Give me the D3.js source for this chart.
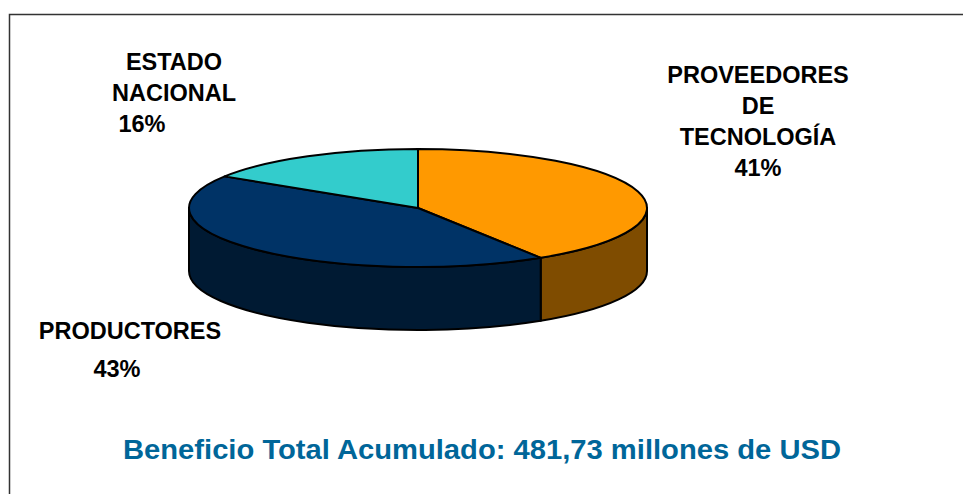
<!DOCTYPE html>
<html>
<head>
<meta charset="utf-8">
<script src="https://cdn.jsdelivr.net/npm/d3@7"></script>
<style>
  body { margin: 0; background: #fff; }
  text { font-family: "Liberation Sans", Arial, sans-serif; font-weight: bold; }
</style>
</head>
<body>
<div id="chart"></div>
<script>
// data
const categories = ["PROVEEDORES DE TECNOLOGÍA", "PRODUCTORES", "ESTADO NACIONAL"];
const shares = [41, 43, 16];
const labelLines = [["PROVEEDORES", "DE", "TECNOLOGÍA", "41%"], ["PRODUCTORES", "43%"], ["ESTADO", "NACIONAL", "16%"]];
const topColors = ["#FF9900", "#003366", "#33CCCC"];
const sideColors = ["#7F4C00", "#001A33", "#1A6666"];
const title = "Beneficio Total Acumulado: 481,73 millones de USD";

const width = 963, height = 494;
const cx = 418, cy = 208, rx = 229, ry = 59, depth = 63;

const svg = d3.select("#chart").append("svg")
  .attr("width", width)
  .attr("height", height);

// frame
svg.append("rect")
  .attr("x", 9.5).attr("y", 14.5)
  .attr("width", 1000).attr("height", 600)
  .attr("fill", "none")
  .attr("stroke", "#333")
  .attr("stroke-width", 1.5);

const pie = d3.pie().sort(null).value(d => d)(shares);

// angle measured clockwise from 12 o'clock
function pt(a, dy) {
  return [cx + rx * Math.sin(a), cy - ry * Math.cos(a) + (dy || 0)];
}

// side walls (only the front half is visible)
pie.forEach((d, i) => {
  const a0 = Math.max(d.startAngle, Math.PI / 2);
  const a1 = Math.min(d.endAngle, Math.PI * 1.5);
  if (a1 <= a0) return;
  const p0 = pt(a0), p1 = pt(a1), q1 = pt(a1, depth), q0 = pt(a0, depth);
  const path = "M" + p0 + " A" + rx + "," + ry + " 0 0 1 " + p1 +
    " L" + q1 + " A" + rx + "," + ry + " 0 0 0 " + q0 + " Z";
  svg.append("path")
    .attr("d", path)
    .attr("fill", sideColors[i])
    .attr("stroke", "#000")
    .attr("stroke-width", 2)
    .attr("stroke-linejoin", "round");
});

// top faces
svg.append("g").selectAll("path")
  .data(pie)
  .enter()
  .append("path")
  .attr("d", d => {
    const p0 = pt(d.startAngle), p1 = pt(d.endAngle);
    const large = d.endAngle - d.startAngle > Math.PI ? 1 : 0;
    return "M" + cx + "," + cy + " L" + p0 + " A" + rx + "," + ry + " 0 " + large + " 1 " + p1 + " Z";
  })
  .attr("fill", (d, i) => topColors[i])
  .attr("stroke", "#000")
  .attr("stroke-width", 2)
  .attr("stroke-linejoin", "round");

// labels
const labelPos = [
  { x: 758, y: 83, dy: 31 },
  { x: 130, y: 339, dy: 38 },
  { x: 174, y: 70, dy: 31 }
];
labelLines.forEach((lines, i) => {
  const t = svg.append("text")
    .attr("text-anchor", "middle")
    .attr("font-size", 23.5)
    .attr("fill", "#000");
  lines.forEach((s, j) => {
    let x = labelPos[i].x;
    if (i === 2 && j === 2) x = 142;
    if (i === 1 && j === 1) x = 117;
    t.append("tspan")
      .attr("x", x)
      .attr("y", labelPos[i].y + j * labelPos[i].dy)
      .text(s);
  });
});

// title
svg.append("text")
  .attr("x", 482)
  .attr("y", 459)
  .attr("text-anchor", "middle")
  .attr("font-size", 27)
  .attr("textLength", 718)
  .attr("lengthAdjust", "spacingAndGlyphs")
  .attr("fill", "#006699")
  .text(title);
</script>
</body>
</html>
